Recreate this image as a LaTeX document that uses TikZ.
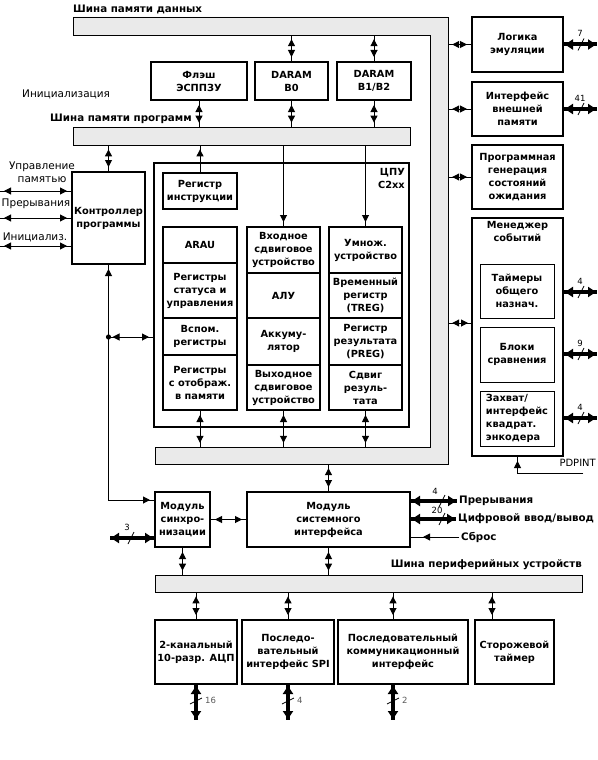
\documentclass[tikz,border=0pt]{standalone}
\usepackage{fontspec}
\setmainfont{DejaVu Sans}
\usetikzlibrary{arrows.meta}
\definecolor{busgray}{RGB}{234,234,234}
\tikzset{
  tri/.tip={Triangle[length=7pt,width=7pt]},
  btri/.tip={Triangle[length=8pt,width=10pt]},
  box/.style={draw, line width=2pt, fill=white, align=center, inner sep=1pt,
    font=\bfseries\fontsize{9.8}{13}\selectfont},
  sub/.style={box, line width=1pt},
  lbl/.style={font=\bfseries\fontsize{9.8}{13}\selectfont, inner sep=0pt, align=center},
  blbl/.style={font=\bfseries\fontsize{10.3}{13}\selectfont, inner sep=0pt, align=center},
  rlbl/.style={font=\fontsize{10.5}{13}\selectfont, inner sep=0pt, align=center},
  num/.style={font=\fontsize{8.5}{9}\selectfont, inner sep=0pt},
  gnum/.style={num, text=black!65},
  bus/.style={draw, line width=0.8pt, fill=busgray, inner sep=0pt},
  hid/.style={inner sep=0pt},
  conn/.style={line width=1pt},
  bi/.style={conn, postaction={draw, line width=1pt, tri-tri, shorten <=4pt, shorten >=4pt}},
  one/.style={conn, postaction={draw, line width=1pt, -tri, shorten >=4pt}},
  midarr/.style={conn, postaction={draw, line width=1pt, -tri, shorten >=12pt}},
  tk/.style={line width=4pt, postaction={draw, line width=4pt, btri-btri, shorten <=1pt, shorten >=1pt}},
  slash/.style={line width=0.8pt}
}
\begin{document}
\begin{tikzpicture}[x=1pt,y=-1pt]
\useasboundingbox (0,0) rectangle (597,760);

% ---------- buses ----------
\draw[bus] (73,17) -- (448,17) -- (448,464) -- (155,464) -- (155,447) -- (430,447) -- (430,35) -- (73,35) -- cycle;
\node[hid, minimum width=375, minimum height=18] (dbtop) at (260.5,26) {};
\node[hid, minimum width=18, minimum height=447] (dbright) at (439,240.5) {};
\node[hid, minimum width=293, minimum height=17] (dbbot) at (301.5,455.5) {};
\node[bus, minimum width=337, minimum height=18] (pbus) at (241.5,136) {};
\node[bus, minimum width=427, minimum height=17] (perbus) at (368.5,583.5) {};

\node[blbl, anchor=west] at (73,9) {Шина памяти данных};
\node[blbl, anchor=west] at (50,119) {Шина памяти программ};
\node[rlbl, anchor=west] at (22,94) {Инициализация};
\node[blbl, anchor=east] at (582,565) {Шина периферийных устройств};

% ---------- memories ----------
\node[box, minimum width=96, minimum height=38] (flash) at (199,81) {Флэш\\ЭСППЗУ};
\node[box, minimum width=73, minimum height=38] (B0) at (291.5,81) {DARAM\\B0};
\node[box, minimum width=74, minimum height=38] (B12) at (374,81) {DARAM\\B1/B2};

% ---------- right column ----------
\node[box, minimum width=91, minimum height=55] (emu) at (517.5,44.5) {Логика\\эмуляции};
\node[box, minimum width=91, minimum height=54] (ext) at (517.5,109) {Интерфейс\\внешней\\памяти};
\node[box, minimum width=91, minimum height=64] (wait) at (517.5,177) {Программная\\генерация\\состояний\\ожидания};
\node[box, minimum width=91, minimum height=238] (evm) at (517.5,337) {};
\node[lbl, anchor=north] (evt) at (517.5,221) {Менеджер\\событий};
\node[sub, minimum width=74, minimum height=54] (tim) at (517,291) {Таймеры\\общего\\назнач.};
\node[sub, minimum width=74, minimum height=55] (cmp) at (517,354.5) {Блоки\\сравнения};
\node[sub, minimum width=74, minimum height=55, align=left] (cap) at (517,418.5) {Захват/\\интерфейс\\квадрат.\\энкодера};

% ---------- controller ----------
\node[box, minimum width=73, minimum height=92] (ctrl) at (108.5,218) {Контроллер\\программы};

% ---------- CPU ----------
\node[box, minimum width=255, minimum height=264] (cpu) at (281.5,295) {};
\node[lbl, align=right, anchor=north east] at (405,168) {ЦПУ\\C2xx};
\node[box, minimum width=74, minimum height=36] (ir) at (200,191) {Регистр\\инструкции};

\node[box, minimum width=74, minimum height=36] (aru) at (200,245) {ARAU};
\node[box, minimum width=74, minimum height=55] (stat) at (200,290.5) {Регистры\\статуса и\\управления};
\node[box, minimum width=74, minimum height=37] (aux) at (200,336.5) {Вспом.\\регистры};
\node[box, minimum width=74, minimum height=55] (mapr) at (200,382.5) {Регистры\\с отображ.\\в памяти};

\node[box, minimum width=73, minimum height=46] (ish) at (283.5,250) {Входное\\сдвиговое\\устройство};
\node[box, minimum width=73, minimum height=45] (alu) at (283.5,295.5) {АЛУ};
\node[box, minimum width=73, minimum height=47] (acc) at (283.5,341.5) {Аккуму-\\лятор};
\node[box, minimum width=73, minimum height=45] (osh) at (283.5,387.5) {Выходное\\сдвиговое\\устройство};

\node[box, minimum width=73, minimum height=46] (mul) at (365.5,250) {Умнож.\\устройство};
\node[box, minimum width=73, minimum height=45] (treg) at (365.5,295.5) {Временный\\регистр\\(TREG)};
\node[box, minimum width=73, minimum height=47] (preg) at (365.5,341.5) {Регистр\\результата\\(PREG)};
\node[box, minimum width=73, minimum height=45] (shf) at (365.5,387.5) {Сдвиг\\резуль-\\тата};

% ---------- clock / system interface ----------
\node[box, minimum width=55, minimum height=55] (clk) at (182.5,519.5) {Модуль\\синхро-\\низации};
\node[box, minimum width=163, minimum height=55] (sys) at (328.5,519.5) {Модуль\\системного\\интерфейса};

% ---------- peripherals ----------
\node[box, minimum width=82, minimum height=64] (adc) at (196,652) {2-канальный\\10-разр. АЦП};
\node[box, minimum width=92, minimum height=64] (spi) at (288,652) {Последо-\\вательный\\интерфейс SPI};
\node[box, minimum width=130, minimum height=64] (sci) at (403,652) {Последовательный\\коммуникационный\\интерфейс};
\node[box, minimum width=79, minimum height=64] (wdt) at (514.5,652) {Сторожевой\\таймер};

% ---------- connectors: data bus ----------
\draw[bi] (dbtop.south -| B0.north) -- (B0.north);
\draw[bi] (dbtop.south -| B12.north) -- (B12.north);
\draw[bi] (dbright.east |- emu.west) -- (emu.west);
\draw[bi] (dbright.east |- ext.west) -- (ext.west);
\draw[bi] (dbright.east |- wait.west) -- (wait.west);
\coordinate (evmin) at (472,323);
\draw[bi] (dbright.east |- evmin) -- (evmin);
\draw[bi] (mapr.south) -- (mapr.south |- dbbot.north);
\draw[bi] (osh.south) -- (osh.south |- dbbot.north);
\draw[bi] (shf.south) -- (shf.south |- dbbot.north);
\draw[bi] (dbbot.south -| sys.north) -- (sys.north);

% ---------- connectors: program bus ----------
\draw[bi] (flash.south) -- (flash.south |- pbus.north);
\draw[bi] (B0.south) -- (B0.south |- pbus.north);
\draw[bi] (B12.south) -- (B12.south |- pbus.north);
\draw[bi] (pbus.south -| ctrl.north) -- (ctrl.north);
\draw[one] (ir.north) -- (ir.north |- pbus.south);
\draw[one] (pbus.south -| ish.north) -- (ish.north);
\draw[one] (pbus.south -| mul.north) -- (mul.north);

% ---------- left side ----------
\coordinate (inA) at (0,191);
\coordinate (inB) at (0,218);
\coordinate (inC) at (0,246);
\draw[bi] (inA) -- (ctrl.west |- inA);
\draw[bi] (inB) -- (ctrl.west |- inB);
\draw[bi] (inC) -- (ctrl.west |- inC);
\node[rlbl] at (42,172.5) {Управление\\памятью};
\node[rlbl] at (36,204) {Прерывания};
\node[rlbl] at (35,237) {Инициализ.};

\coordinate (clkin) at ([yshift=-9pt]clk.north west);
\draw[bi] (ctrl.south) -- (ctrl.south |- clkin) -- (clkin);
\coordinate (dot) at (108.5,337);
\fill (dot) circle (2.6pt);
\draw[bi] (dot) -- (cpu.west |- dot);

% ---------- clock / sysif ----------
\draw[bi] (clk.east) -- (sys.west);
\draw[bi] (clk.south) -- (clk.south |- perbus.north);
\draw[bi] (sys.south) -- (sys.south |- perbus.north);
\coordinate (c3) at (110,538);
\draw[tk] (c3) -- (clk.west |- c3);
\draw[slash] (128,544) -- (134,532);
\node[num] at (127,527) {3};

\node[blbl, anchor=west, inner sep=2pt] (irq) at (457,501) {Прерывания};
\node[blbl, anchor=west, inner sep=2pt] (dio) at (456,519) {Цифровой ввод/вывод};
\node[blbl, anchor=west, inner sep=2pt] (rst) at (459,537) {Сброс};
\draw[tk] (sys.east |- irq) -- (irq.west);
\draw[tk] (sys.east |- dio) -- (dio.west);
\draw[midarr] (rst.west) -- (sys.east |- rst);
\draw[slash] (439,507) -- (445,495);
\draw[slash] (439,525) -- (445,513);
\node[num] at (435,491) {4};
\node[num] at (437,510) {20};

% ---------- right outputs ----------
\coordinate (o7) at (597,44.5);
\coordinate (o41) at (597,109);
\coordinate (oT) at (597,292);
\coordinate (oC) at (597,354);
\coordinate (oQ) at (597,418);
\draw[tk] (emu.east) -- (o7);
\draw[tk] (ext.east) -- (o41);
\draw[tk] (evm.east |- oT) -- (oT);
\draw[tk] (evm.east |- oC) -- (oC);
\draw[tk] (evm.east |- oQ) -- (oQ);
\foreach \yy/\tt in {44.5/7, 109/41, 292/4, 354/9, 418/4}{
  \draw[slash] (578,\yy+6) -- (584,\yy-6);
  \node[num] at (580,\yy-11) {\tt};
}

\coordinate (pd) at (583,473);
\draw[one] (pd) -- (evm.south |- pd) -- (evm.south);
\node[font=\fontsize{10}{12}\selectfont, inner sep=0pt, anchor=east] at (596,463) {PDPINT};

% ---------- peripheral bus ----------
\coordinate (sciin) at ([xshift=-10pt]sci.north);
\coordinate (wdtin) at ([xshift=-22.5pt]wdt.north);
\coordinate (sciout) at ([xshift=-10pt]sci.south);
\draw[bi] (perbus.south -| adc.north) -- (adc.north);
\draw[bi] (perbus.south -| spi.north) -- (spi.north);
\draw[bi] (perbus.south -| sciin) -- (sciin);
\draw[bi] (perbus.south -| wdtin) -- (wdtin);

\coordinate (b16) at (196,720);
\coordinate (b4) at (288,720);
\coordinate (b2) at (393,720);
\draw[tk] (adc.south) -- (b16);
\draw[tk] (spi.south) -- (b4);
\draw[tk] (sciout) -- (b2);
\draw[slash] (190,704) -- (202,698);
\draw[slash] (282,704) -- (294,698);
\draw[slash] (387,704) -- (399,698);
\node[gnum, anchor=west] at (205,700) {16};
\node[gnum, anchor=west] at (297,700) {4};
\node[gnum, anchor=west] at (402,700) {2};
\end{tikzpicture}
\end{document}
